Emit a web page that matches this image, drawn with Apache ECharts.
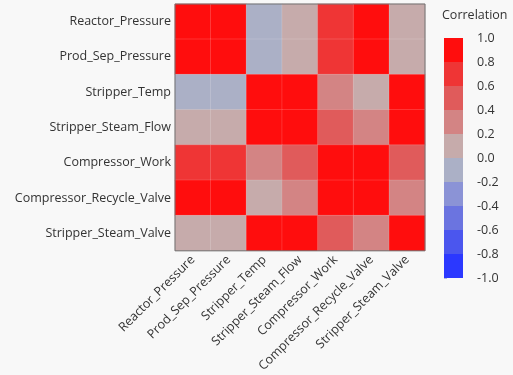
<!DOCTYPE html>
<html>
<head>
<meta charset="utf-8">
<script src="https://cdn.jsdelivr.net/npm/echarts@6/dist/echarts.min.js"></script>
<style>
    html, body { margin: 0; padding: 0; background: #f8f8f8; }
    #main { width: 513px; height: 375px; }
</style>
</head>
<body>
<div id="main"></div>
<script>
    // variables, same order on both axes
    var variables = ['Reactor_Pressure', 'Prod_Sep_Pressure', 'Stripper_Temp', 'Stripper_Steam_Flow',
        'Compressor_Work', 'Compressor_Recycle_Valve', 'Stripper_Steam_Valve'];

    // correlation matrix, one row per variable
    var rowReactor   = [1.00, 0.99, -0.10, 0.10, 0.70, 0.90, 0.10];
    var rowProdSep   = [0.99, 1.00, -0.10, 0.10, 0.70, 0.90, 0.10];
    var rowStripT    = [-0.10, -0.10, 1.00, 0.95, 0.30, 0.10, 0.95];
    var rowSteamFlow = [0.10, 0.10, 0.95, 1.00, 0.50, 0.30, 0.95];
    var rowCompWork  = [0.70, 0.70, 0.30, 0.50, 1.00, 0.90, 0.50];
    var rowRecycle   = [0.90, 0.90, 0.10, 0.30, 0.90, 1.00, 0.30];
    var rowSteamVlv  = [0.10, 0.10, 0.95, 0.95, 0.50, 0.30, 1.00];
    var matrix = [rowReactor, rowProdSep, rowStripT, rowSteamFlow, rowCompWork, rowRecycle, rowSteamVlv];

    // colour scale bins, from -1 to 1
    var binEdges = [-1.0, -0.8, -0.6, -0.4, -0.2, 0.0, 0.2, 0.4, 0.6, 0.8, 1.0];
    var binColors = ['#2b38ff', '#4b56ee', '#6b74e0', '#8b93d6', '#abb0c6',
        '#c6abab', '#d38484', '#e05b5b', '#ef3535', '#ff0d0d'];

    var cells = [];
    for (var r = 0; r < matrix.length; r++) {
        for (var c = 0; c < matrix[r].length; c++) {
            cells.push([c, r, matrix[r][c]]);
        }
    }

    var pieces = [];
    var bins = [];
    for (var i = 0; i < binColors.length; i++) {
        var p = { gte: binEdges[i], color: binColors[i] };
        if (i === binColors.length - 1) p.lte = binEdges[i + 1]; else p.lt = binEdges[i + 1];
        pieces.push(p);
        bins.push([0, binEdges[i], binEdges[i + 1], (binEdges[i] + binEdges[i + 1]) / 2]);
    }

    var textColor = '#333';
    var font = '"Open Sans", sans-serif';
    var fs = 12.5;

    var chart = echarts.init(document.getElementById('main'));
    chart.setOption({
        backgroundColor: '#f8f8f8',
        animation: false,
        title: {
            text: 'Correlation',
            left: 437,
            top: 4,
            textStyle: { fontSize: fs, fontWeight: 'normal', color: textColor, fontFamily: font }
        },
        grid: [{
            left: 175, top: 4, width: 250, height: 250,
            show: true, z: 10,
            backgroundColor: 'transparent',
            borderColor: '#707070', borderWidth: 1
        }, {
            left: 444, top: 38, width: 19, height: 240
        }],
        xAxis: [{
            type: 'category',
            gridIndex: 0,
            data: variables,
            axisLine: { show: false },
            axisTick: { show: false },
            axisLabel: { rotate: 45, interval: 0, margin: 7, fontSize: fs, color: textColor, fontFamily: font }
        }, {
            type: 'value',
            gridIndex: 1,
            min: 0, max: 1,
            show: false
        }],
        yAxis: [{
            type: 'category',
            gridIndex: 0,
            data: variables,
            inverse: true,
            axisLine: { show: false },
            axisTick: { show: false },
            axisLabel: { margin: 4, fontSize: fs, color: textColor, fontFamily: font }
        }, {
            type: 'value',
            gridIndex: 1,
            position: 'right',
            min: -1, max: 1, interval: 0.2,
            splitLine: { show: false },
            axisLine: { show: false },
            axisTick: { show: true, length: 3, lineStyle: { color: '#b4bad6' } },
            axisLabel: {
                margin: 14, fontSize: fs, color: textColor, fontFamily: font,
                formatter: function (v) { return v.toFixed(1); }
            }
        }],
        visualMap: {
            type: 'piecewise',
            show: false,
            dimension: 2,
            seriesIndex: 0,
            pieces: pieces
        },
        series: [{
            type: 'heatmap',
            xAxisIndex: 0,
            yAxisIndex: 0,
            data: cells,
            itemStyle: { borderColor: 'rgba(255,255,255,0.15)', borderWidth: 1 }
        }, {
            type: 'custom',
            xAxisIndex: 1,
            yAxisIndex: 1,
            data: bins,
            renderItem: function (params, api) {
                var top = api.coord([0, api.value(2)]);
                var bottom = api.coord([1, api.value(1)]);
                return {
                    type: 'rect',
                    shape: { x: top[0], y: top[1], width: bottom[0] - top[0], height: bottom[1] - top[1] },
                    style: { fill: binColors[params.dataIndex] }
                };
            }
        }]
    });
</script>
</body>
</html>
